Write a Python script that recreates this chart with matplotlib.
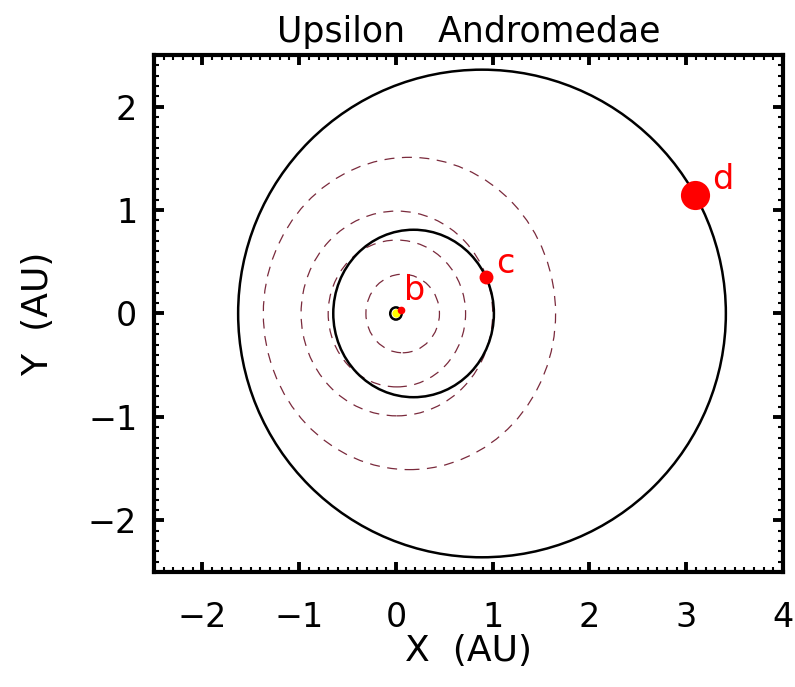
import matplotlib
matplotlib.use("Agg")
import numpy as np
import matplotlib.pyplot as plt
from matplotlib.patches import Ellipse, Circle
from matplotlib.ticker import MultipleLocator

# Orbital elements (AU); star sits at the origin, at one focus of each orbit
planet_names = ["b", "c", "d"]
semi_major = [0.059, 0.83, 2.52]
eccentricity = [0.0, 0.22, 0.353]

# Planet positions along their orbits (AU)
planet_x = [0.05, 0.93, 3.09]
planet_y = [0.03, 0.35, 1.15]

# Dashed reference rings: radius and centre offset along x (AU)
ring_radius = [0.38, 0.71, 0.99, 1.51]
ring_x0 = [0.07, 0.01, 0.01, 0.14]

xticks = [-2, -1, 0, 1, 2, 3, 4]
yticks = [-2, -1, 0, 1, 2]

# Marker size (points) and label offsets (points) for each planet
MARKER_SIZE = {"b": 5.5, "c": 10, "d": 21}
LABEL_OFFSET = {"b": (10, 14), "c": (14, 10), "d": (20, 11)}

RED = "#ff0000"
RING = "#7a2a3c"

plt.rcParams["font.family"] = ["DejaVu Sans"]

fig = plt.figure(figsize=(7.95, 6.87), dpi=100)
ax = fig.add_axes([0.1937, 0.1674, 0.7912, 0.7526])

for r, x0 in zip(ring_radius, ring_x0):
    ax.add_patch(Circle((x0, 0), r, fill=False, ec=RING, lw=0.9,
                        ls=(0, (8, 6)), zorder=2))

for a, e in zip(semi_major, eccentricity):
    b = a * np.sqrt(1 - e**2)
    ax.add_patch(Ellipse((a * e, 0), 2 * a, 2 * b, fill=False, ec="black",
                         lw=1.8, zorder=3))

# host star
ax.plot([0], [0], "o", ms=6, mfc="#ffff00", mec="none", zorder=4)

for name, x, y in zip(planet_names, planet_x, planet_y):
    ax.plot([x], [y], "o", ms=MARKER_SIZE[name], color=RED, mec="none",
            zorder=5)
    ax.annotate(name, (x, y), xytext=LABEL_OFFSET[name],
                textcoords="offset points", color=RED, fontsize=24,
                ha="center", va="center", zorder=6)

ax.set_xlim(-2.5, 4)
ax.set_ylim(-2.5, 2.5)
ax.set_xticks(xticks)
ax.set_yticks(yticks)
ax.xaxis.set_minor_locator(MultipleLocator(0.1))
ax.yaxis.set_minor_locator(MultipleLocator(0.1))
ax.tick_params(which="both", direction="in", top=True, right=True,
               labelsize=24, color="black")
ax.tick_params(which="major", length=7.5, width=2.8)
ax.tick_params(axis="x", which="major", pad=21)
ax.tick_params(axis="y", which="major", pad=12)
ax.tick_params(which="minor", length=3.5, width=1.5)
for sp in ax.spines.values():
    sp.set_linewidth(3.0)

ax.set_xlabel("X  (AU)", fontsize=26, labelpad=0)
ax.set_ylabel("Y  (AU)", fontsize=26, labelpad=24)
ax.set_title("Upsilon   Andromedae", fontsize=25, pad=9)

fig.savefig("out.png", dpi=100)
